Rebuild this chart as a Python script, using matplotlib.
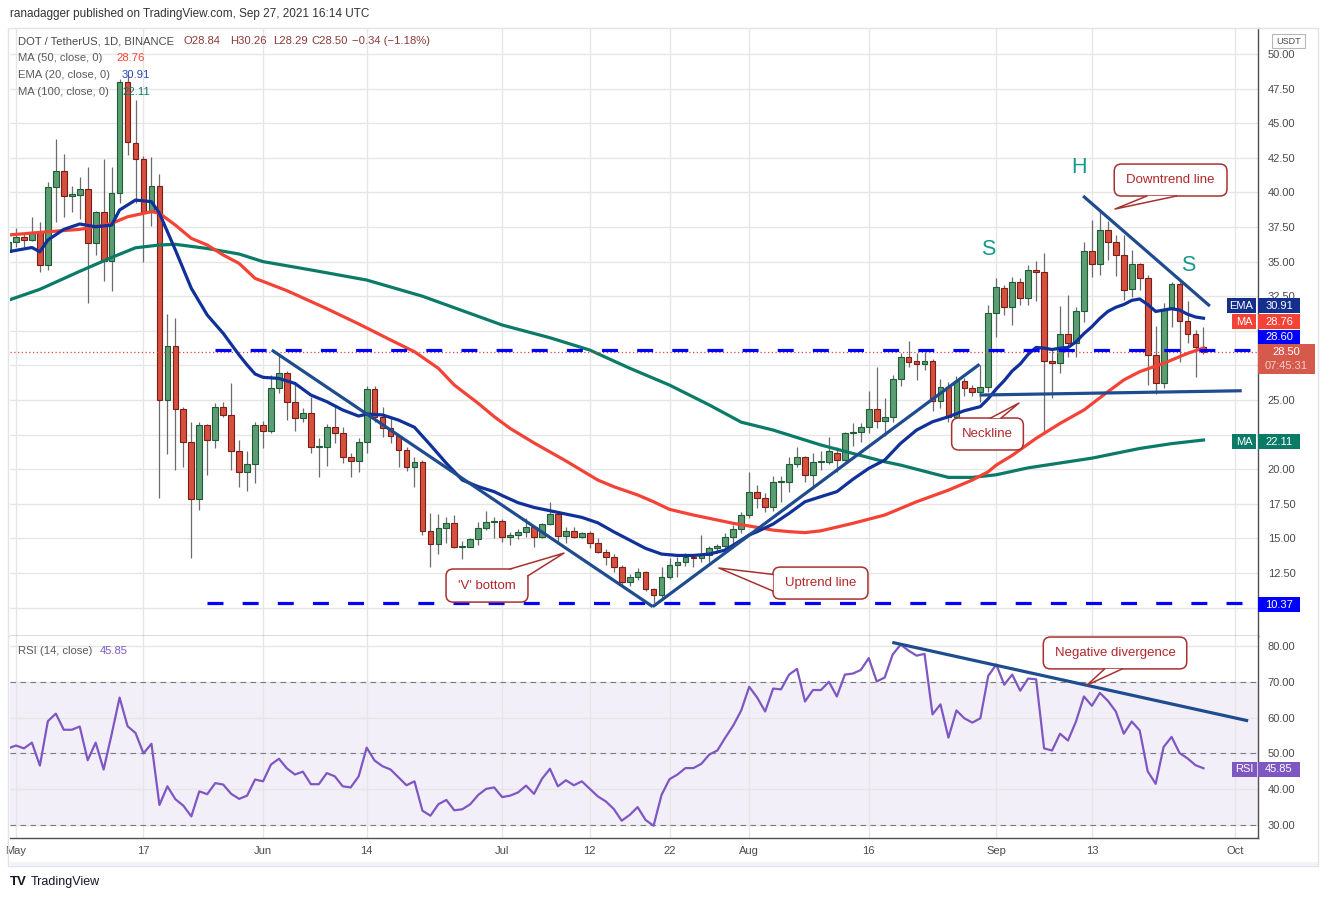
import matplotlib
matplotlib.use('Agg')
import matplotlib.pyplot as plt
import matplotlib.dates as mdates
import matplotlib.transforms as mtransforms
from matplotlib.patches import Rectangle, FancyBboxPatch, Polygon
from matplotlib.ticker import FormatStrFormatter, FuncFormatter
import numpy as np
import pandas as pd

plt.rcParams['font.family'] = ['Liberation Sans', 'DejaVu Sans']

# ---------------- data ----------------
start_date = '2021-04-30'

opens = [
    35.71, 36.44, 36.80, 36.56, 37.16, 34.75, 40.37, 41.55, 39.76, 39.83,
    40.22, 36.37, 38.56, 35.07, 39.93, 47.96, 43.54, 42.39, 38.61, 40.49,
    25.00, 28.90, 24.33, 21.94, 17.83, 23.19, 22.11, 24.47, 23.92, 21.32,
    19.78, 20.35, 23.19, 22.76, 25.85, 26.93, 24.88, 23.67, 24.08, 21.58,
    21.58, 23.07, 22.59, 20.86, 20.62, 21.94, 25.77, 23.79, 22.95, 22.42,
    21.39, 20.14, 20.50, 15.56, 14.60, 15.73, 16.09, 14.36, 14.40, 14.93,
    15.73, 16.21, 16.28, 15.08, 15.22, 15.44, 15.85, 15.12, 16.02, 16.74,
    15.20, 15.56, 15.12, 15.37, 14.69, 14.04, 13.68, 12.96, 11.87, 12.19,
    12.55, 11.32, 10.91, 12.23, 13.05, 13.27, 13.68, 13.56, 13.80, 14.28,
    14.45, 15.12, 15.70, 16.69, 18.33, 17.90, 17.29, 19.05, 19.05, 20.35,
    20.86, 19.56, 20.50, 20.50, 21.20, 20.66, 22.64, 22.72, 23.02, 24.33,
    23.48, 23.75, 26.50, 28.08, 27.80, 27.58, 27.80, 24.95, 25.92, 23.79,
    26.40, 25.85, 25.60, 25.92, 31.26, 33.07, 31.70, 33.50, 32.35, 34.39,
    34.27, 27.84, 27.65, 29.75, 29.10, 31.45, 35.77, 34.80, 37.28, 36.39,
    35.48, 32.99, 34.83, 33.79, 28.25, 26.25, 31.55, 33.36, 30.71, 29.75,
    28.84]
highs = [
    36.60, 37.41, 37.09, 38.24, 37.88, 40.77, 43.86, 42.77, 40.43, 41.13,
    41.81, 38.68, 42.39, 41.81, 48.20, 48.40, 46.68, 42.60, 42.53, 41.31,
    31.19, 30.90, 24.50, 23.43, 23.43, 23.30, 24.76, 24.88, 26.20, 22.10,
    21.32, 23.43, 23.48, 26.81, 28.37, 27.10, 26.32, 24.40, 25.19, 22.23,
    23.30, 24.57, 23.07, 21.15, 22.29, 26.00, 26.00, 24.52, 23.79, 22.42,
    21.60, 20.90, 20.70, 16.81, 16.77, 16.57, 16.69, 14.85, 15.00, 16.21,
    16.98, 16.52, 16.40, 15.49, 15.70, 16.45, 15.90, 16.13, 17.63, 16.80,
    15.85, 15.85, 15.49, 15.56, 15.00, 14.21, 13.87, 13.05, 12.43, 12.84,
    12.67, 11.40, 12.91, 13.56, 13.63, 13.97, 13.87, 15.25, 14.45, 14.61,
    15.36, 15.97, 16.93, 19.82, 18.86, 18.26, 19.53, 19.50, 20.90, 21.58,
    20.95, 21.15, 21.34, 22.35, 21.63, 22.71, 23.36, 23.36, 25.67, 27.36,
    25.12, 26.81, 28.42, 29.29, 28.42, 28.49, 27.94, 26.50, 26.32, 26.73,
    26.57, 26.08, 27.53, 31.86, 33.79, 33.30, 33.91, 33.79, 34.75, 35.07,
    35.64, 28.66, 31.79, 32.59, 31.74, 36.44, 38.00, 38.70, 37.90, 36.92,
    36.92, 35.84, 34.92, 34.00, 30.35, 31.98, 33.55, 33.55, 32.18, 30.06,
    30.26]
lows = [
    35.50, 36.08, 36.08, 36.50, 34.27, 34.39, 37.88, 38.24, 38.60, 38.08,
    31.99, 35.48, 33.62, 32.90, 39.26, 42.70, 39.21, 35.00, 37.59, 17.90,
    21.10, 19.94, 20.18, 13.56, 17.05, 19.58, 21.51, 23.80, 19.94, 18.74,
    18.40, 18.98, 21.51, 22.59, 25.53, 23.55, 22.78, 23.40, 21.19, 19.46,
    20.23, 21.92, 20.42, 19.41, 19.82, 21.15, 23.43, 22.35, 21.87, 20.14,
    19.90, 18.74, 15.25, 12.90, 13.87, 14.64, 14.28, 13.51, 14.36, 14.52,
    15.60, 15.00, 14.72, 14.52, 14.93, 15.12, 14.40, 15.05, 15.95, 14.74,
    14.69, 15.00, 15.00, 14.28, 13.97, 13.08, 12.60, 11.56, 11.56, 11.99,
    11.22, 10.37, 10.60, 12.04, 12.19, 13.00, 12.96, 13.32, 13.32, 13.97,
    14.08, 14.33, 15.36, 16.45, 17.20, 16.90, 17.00, 17.65, 18.38, 20.18,
    19.05, 18.62, 19.94, 20.38, 19.78, 20.60, 21.68, 21.99, 22.64, 22.95,
    22.40, 23.39, 26.01, 27.41, 26.45, 27.17, 24.23, 24.40, 23.43, 23.60,
    25.29, 25.29, 24.88, 25.57, 29.57, 31.14, 30.42, 31.86, 31.86, 32.18,
    22.59, 25.12, 26.93, 28.13, 28.13, 30.66, 33.90, 34.03, 35.10, 33.96,
    32.20, 32.42, 32.95, 26.08, 25.43, 25.84, 30.30, 27.77, 29.14, 26.68,
    28.29]
closes = [
    36.44, 36.80, 36.56, 37.16, 34.75, 40.37, 41.55, 39.76, 39.85, 40.22,
    36.37, 38.56, 35.07, 39.93, 47.96, 43.66, 42.39, 38.61, 40.49, 25.00,
    28.90, 24.33, 21.94, 17.83, 23.19, 22.11, 24.47, 23.92, 21.32, 19.78,
    20.35, 23.19, 22.76, 25.85, 26.93, 24.88, 23.67, 24.08, 21.58, 21.62,
    23.07, 22.59, 20.86, 20.62, 21.94, 25.77, 23.79, 22.95, 22.42, 21.39,
    20.14, 20.50, 15.56, 14.60, 15.73, 16.09, 14.36, 14.45, 14.93, 15.73,
    16.21, 16.28, 15.08, 15.22, 15.44, 15.85, 15.12, 16.02, 16.74, 15.20,
    15.56, 15.12, 15.37, 14.69, 14.04, 13.68, 12.96, 11.87, 12.19, 12.55,
    11.32, 10.91, 12.23, 13.05, 13.27, 13.68, 13.56, 13.80, 14.28, 14.45,
    15.12, 15.70, 16.69, 18.33, 17.90, 17.29, 19.05, 19.10, 20.35, 20.86,
    19.56, 20.50, 20.55, 21.29, 20.66, 22.64, 22.72, 23.02, 24.33, 23.48,
    23.75, 26.50, 28.08, 27.77, 27.58, 27.80, 24.95, 25.92, 23.79, 26.40,
    25.85, 25.60, 25.92, 31.26, 33.14, 31.70, 33.50, 32.35, 34.39, 34.27,
    27.84, 27.65, 29.75, 29.10, 31.45, 35.77, 34.80, 37.28, 36.39, 35.48,
    32.95, 34.83, 33.79, 28.25, 26.25, 31.55, 33.36, 30.71, 29.75, 28.84,
    28.50]

rsi_vals = [
    51.4, 52.2, 51.4, 53.0, 46.6, 59.0, 61.1, 56.6, 56.6, 57.5,
    48.1, 53.0, 45.5, 55.3, 65.6, 57.6, 55.7, 50.0, 52.7, 35.6,
    40.8, 37.2, 35.4, 32.4, 39.4, 38.6, 41.7, 41.3, 38.7, 37.3,
    38.2, 42.7, 42.2, 46.9, 48.5, 45.8, 44.1, 44.9, 41.4, 41.4,
    44.5, 43.6, 40.8, 40.5, 43.6, 51.6, 48.0, 46.4, 45.5, 43.3,
    41.1, 42.2, 34.0, 32.6, 35.8, 37.0, 34.1, 34.4, 35.8, 38.4,
    40.1, 40.5, 37.8, 38.2, 39.1, 41.0, 38.7, 42.9, 45.7, 40.8,
    42.5, 41.1, 42.2, 40.1, 38.0, 36.6, 34.5, 31.2, 32.8, 35.0,
    31.4, 29.8, 38.4, 42.8, 44.1, 45.9, 45.9, 47.1, 49.7, 50.8,
    54.4, 57.8, 62.0, 68.6, 65.6, 61.7, 68.1, 67.9, 72.0, 73.6,
    64.5, 67.7, 67.7, 70.0, 65.9, 72.0, 72.3, 73.3, 76.6, 70.1,
    71.2, 77.6, 80.4, 78.7, 77.3, 77.8, 60.9, 63.7, 54.4, 62.0,
    59.8, 58.6, 59.8, 71.7, 74.8, 69.2, 72.0, 67.5, 70.9, 70.7,
    51.4, 50.8, 55.5, 53.6, 58.9, 65.9, 63.3, 66.9, 64.7, 61.7,
    55.5, 58.9, 56.4, 45.0, 41.5, 51.8, 54.6, 50.1, 48.6, 46.7,
    45.85]

# moving averages (day offset from start_date, value)
ema20_day = [0, 3, 4, 5, 7, 9, 11, 13, 14, 16, 18, 19, 21, 23, 25, 27, 29, 30, 31, 32,
             34, 36, 38, 40, 42, 44, 45, 47, 49, 51, 53, 55, 57, 59, 61, 62, 64, 66, 68, 70,
             72, 74, 76, 78, 80, 82, 84, 86, 88, 90, 92, 93, 94, 96, 98, 100, 102, 104, 106, 108,
             110, 112, 114, 116, 118, 120, 122, 123, 124, 125, 126, 127, 128, 129, 130, 131, 132, 133, 134, 135,
             136, 137, 138, 139, 140, 141, 142, 143, 144, 145, 146, 147, 148, 149, 150]
ema20_val = [35.71, 36.02, 35.71, 36.56, 37.33, 37.72, 37.52, 37.64, 38.73, 39.45, 39.33, 38.49, 35.84, 33.07, 31.14, 29.82, 28.25, 27.53, 26.88, 26.64,
             26.56, 26.20, 25.36, 24.88, 24.28, 23.84, 23.99, 23.92, 23.55, 23.03, 21.75, 20.43, 19.22, 18.74, 18.38, 18.10, 17.58, 17.24, 17.00, 16.76,
             16.52, 16.13, 15.48, 14.88, 14.28, 13.87, 13.77, 13.77, 13.87, 14.16, 14.88, 15.25, 15.49, 16.04, 16.81, 17.65, 18.02, 18.38, 19.27, 20.06,
             20.66, 21.87, 22.83, 23.43, 23.79, 24.23, 24.52, 25.10, 25.80, 26.40, 27.10, 27.60, 28.30, 28.80, 28.75, 28.65, 28.75, 28.80, 29.20, 29.80,
             30.30, 30.90, 31.40, 31.70, 31.90, 32.20, 32.30, 31.90, 31.40, 31.50, 31.60, 31.50, 31.20, 31.00, 30.91]

ma50_day = [0, 5, 9, 13, 15, 18, 19, 21, 23, 25, 27, 29, 31, 35, 40, 44, 48, 51, 54, 56,
            59, 61, 63, 66, 70, 74, 76, 79, 81, 83, 86, 88, 91, 94, 96, 98, 100, 102, 106, 110,
            114, 118, 121, 123, 124, 126, 129, 132, 135, 138, 140, 142, 145, 148, 150]
ma50_val = [36.92, 37.16, 37.33, 37.76, 38.24, 38.61, 38.49, 37.64, 36.68, 36.20, 35.48, 34.87, 33.79, 32.90, 31.60, 30.50, 29.34, 28.49, 27.29, 26.08,
            24.76, 23.80, 22.95, 21.90, 20.60, 19.22, 18.74, 18.14, 17.65, 17.10, 16.69, 16.45, 16.09, 15.80, 15.60, 15.49, 15.42, 15.55, 16.09, 16.69,
            17.65, 18.49, 19.22, 19.82, 20.30, 21.00, 22.23, 23.31, 24.28, 25.60, 26.45, 27.05, 27.65, 28.37, 28.76]

ma100_day = [0, 4, 9, 13, 16, 19, 21, 25, 29, 32, 38, 45, 52, 62, 68, 73, 78, 83, 88, 92,
             96, 98, 102, 106, 110, 112, 116, 118, 121, 124, 128, 132, 136, 142, 146, 150]
ma100_val = [32.20, 33.00, 34.30, 35.30, 36.00, 36.20, 36.25, 35.95, 35.55, 35.00, 34.40, 33.67, 32.50, 30.42, 29.50, 28.61, 27.30, 26.08, 24.64, 23.40,
             22.83, 22.47, 21.75, 21.14, 20.54, 20.30, 19.70, 19.41, 19.41, 19.60, 20.10, 20.45, 20.80, 21.50, 21.85, 22.11]

tick_dates = ['2021-05-01', '2021-05-17', '2021-06-01', '2021-06-14', '2021-07-01', '2021-07-12',
              '2021-07-22', '2021-08-01', '2021-08-16', '2021-09-01', '2021-09-13', '2021-10-01']
tick_labels = ['May', '17', 'Jun', '14', 'Jul', '12', '22', 'Aug', '16', 'Sep', '13', 'Oct']

level_low = 10.37
level_res = 28.60
last_price = 28.50
ema_last, ma50_last, ma100_last, rsi_last = 30.91, 28.76, 22.11, 45.85
ohlc_text = ['O28.84', 'H30.26', 'L28.29', 'C28.50', '\u22120.34 (\u22121.18%)']

# drawn lines: (day offset, value)
down_line = [(33.1, 28.61), (80.9, 10.07)]
up_line = [(80.9, 10.07), (121.9, 27.58)]
neck_line = [(121.9, 25.36), (154.8, 25.67)]
hs_down_line = [(134.9, 39.74), (150.8, 31.79)]
rsi_div_line = [(110.95, 81.0), (155.6, 59.1)]

# ---------------- figure ----------------
W, H = 1330, 900
fig = plt.figure(figsize=(W / 100, H / 100), dpi=100)
fig.patch.set_facecolor('white')

d0 = mdates.date2num(pd.Timestamp(start_date))
n = len(closes)
xs = d0 + np.arange(n)


def dx(days):
    return d0 + np.asarray(days, dtype=float)


L_PX, R_PX = 10, 1258
TOP_PX, SEP_PX, BOT_PX = 28, 636, 838
ax = fig.add_axes([L_PX / W, 1 - SEP_PX / H, (R_PX - L_PX) / W, (SEP_PX - TOP_PX) / H])
ax2 = fig.add_axes([L_PX / W, 1 - BOT_PX / H, (R_PX - L_PX) / W, (BOT_PX - SEP_PX) / H], sharex=ax)
XL = (d0 + 0.25, d0 + 156.84)
ax.set_xlim(*XL)
ax.set_ylim(7.95, 51.88)
ax2.set_ylim(26.37, 82.79)
PX_DAY = 7.97
PX_PRICE = 13.84
PX_RSI = 3.58

grid_c = '#e6e6e6'
axis_c = '#4f4f4f'
tick_x = mdates.date2num(pd.to_datetime(tick_dates))
for a in (ax, ax2):
    a.set_facecolor('white')
    a.set_xticks(tick_x)
    a.grid(True, color=grid_c, lw=1.0, zorder=0)
    a.set_axisbelow(True)
    for s in a.spines.values():
        s.set_visible(False)
    for s in ('right', 'bottom'):
        a.spines[s].set_visible(True)
        a.spines[s].set_color(axis_c)
        a.spines[s].set_linewidth(1.0)
    a.yaxis.tick_right()
    a.tick_params(axis='y', length=0, pad=7, labelsize=8, labelcolor='#4a4a4a')
    a.tick_params(axis='x', length=0)

# price-scale labels hidden behind the value tags in the reference are left blank
hidden_ticks = (10.0, 22.5, 27.5, 30.0)


def price_fmt(v, pos):
    if any(abs(v - h) < 1e-6 for h in hidden_ticks):
        return ''
    return f'{v:.2f}'


ax.set_yticks(np.arange(10, 51, 2.5))
ax.yaxis.set_major_formatter(FuncFormatter(price_fmt))
ax2.set_yticks([30, 40, 50, 60, 70, 80])
ax2.yaxis.set_major_formatter(FormatStrFormatter('%.2f'))
ax.tick_params(axis='x', labelbottom=False)
ax2.set_xticklabels(tick_labels)
ax2.tick_params(axis='x', pad=6, labelsize=8, labelcolor='#4a4a4a')

# ---------------- candles ----------------
o = np.array(opens); c = np.array(closes); hi = np.array(highs); lo = np.array(lows)
up = c >= o
body_lo = np.minimum(o, c)
body_h = np.maximum(np.abs(c - o), 0.07)
ax.vlines(xs, lo, hi, color='#6c6c6c', lw=0.9, zorder=2)
ax.bar(xs, body_h, bottom=body_lo, width=0.72,
       color=['#5c9d73' if u else '#d5503f' for u in up],
       edgecolor=['#1f5c36' if u else '#7a1e18' for u in up],
       linewidth=0.8, zorder=2.5)

# ---------------- indicators ----------------
ax.plot(dx(ma100_day), ma100_val, color='#0b7b67', lw=2.3, zorder=3, solid_joinstyle='round')
ax.plot(dx(ma50_day), ma50_val, color='#f44336', lw=2.3, zorder=3, solid_joinstyle='round')
ax.plot(dx(ema20_day), ema20_val, color='#10309a', lw=2.3, zorder=3.1, solid_joinstyle='round')

ax.axhline(last_price, color='#e0483b', lw=0.9, ls=(0, (1, 2)), zorder=3)
ax.plot([d0 + 26, XL[1]], [level_res, level_res], color='#0000ff', lw=2.3, dashes=(5, 6), zorder=3.5)
ax.plot([d0 + 25, XL[1]], [level_low, level_low], color='#0000ff', lw=2.3, dashes=(5, 6), zorder=3.5)

tl_c = '#1f4c8f'
for seg in (down_line, up_line, neck_line, hs_down_line):
    ax.plot(dx([p[0] for p in seg]), [p[1] for p in seg], color=tl_c, lw=2.3, zorder=4,
            solid_capstyle='butt')

# RSI
ax2.axhspan(30, 70, color='#7e57c2', alpha=0.09, lw=0, zorder=0.5)
for lv in (70, 50, 30):
    ax2.axhline(lv, color='#787b86', lw=0.8, ls=(0, (5, 4)), zorder=1)
ax2.plot(xs, rsi_vals, color='#7e57c2', lw=1.6, zorder=3)
ax2.plot(dx([p[0] for p in rsi_div_line]), [p[1] for p in rsi_div_line], color=tl_c, lw=2.3,
         zorder=4, solid_capstyle='butt')

# ---------------- callouts ----------------
cc = '#a8312f'
tc = '#b0282b'


def callout(a, x0, x1, y0, y1, b1, b2, tip, text, yscale):
    asp = PX_DAY / yscale
    box = FancyBboxPatch((d0 + x0, y0), x1 - x0, y1 - y0,
                         boxstyle='round,pad=0,rounding_size=0.9', mutation_aspect=asp,
                         fc='white', ec=cc, lw=1.1, zorder=7)
    a.add_patch(box)
    pts = [(d0 + b1[0], b1[1]), (d0 + tip[0], tip[1]), (d0 + b2[0], b2[1])]
    a.add_patch(Polygon(pts, closed=True, fc='white', ec='none', zorder=7.5))
    a.plot([p[0] for p in pts], [p[1] for p in pts], color=cc, lw=1.1, zorder=7.6)
    a.text(d0 + (x0 + x1) / 2, (y0 + y1) / 2, text, ha='center', va='center', color=tc,
           fontsize=9.5, zorder=8)


callout(ax, 54.96, 65.24, 10.40, 12.79, (63.0, 12.79), (65.24, 12.30), (69.76, 13.94), "'V' bottom", PX_PRICE)
callout(ax, 95.98, 107.9, 10.62, 12.93, (95.98, 12.40), (95.98, 11.20), (89.2, 12.86), 'Uptrend line', PX_PRICE)
callout(ax, 118.4, 127.4, 21.39, 23.70, (123.3, 23.70), (124.6, 23.70), (126.85, 24.78), 'Neckline', PX_PRICE)
callout(ax, 138.8, 152.95, 39.74, 42.05, (142.9, 39.74), (146.6, 39.74), (138.9, 38.80), 'Downtrend line', PX_PRICE)
callout(ax2, 129.9, 147.9, 73.6, 82.5, (137.6, 73.6), (139.8, 73.6), (135.4, 69.1), 'Negative divergence', PX_RSI)

# head & shoulders letters
hs_c = '#14998a'
ax.text(d0 + 134.4, 41.8, 'H', color=hs_c, fontsize=15.5, ha='center', va='center', zorder=8)
ax.text(d0 + 122.96, 35.9, 'S', color=hs_c, fontsize=15.5, ha='center', va='center', zorder=8)
ax.text(d0 + 148.05, 34.7, 'S', color=hs_c, fontsize=15.5, ha='center', va='center', zorder=8)


# ---------------- price-scale tags ----------------
def tag(a, yv, x0, x1, text, fc, yscale, hpx=15, tcol='white', fs=8):
    tr = mtransforms.blended_transform_factory(fig.transFigure, a.transData)
    hh = hpx / yscale
    a.add_patch(Rectangle((x0 / W, yv - hh / 2), (x1 - x0) / W, hh, transform=tr, fc=fc,
                          ec='none', clip_on=False, zorder=20))
    if text:
        a.text((x0 + x1) / 2 / W, yv, text, transform=tr, ha='center', va='center', color=tcol,
               fontsize=fs, clip_on=False, zorder=21)


ema_c = '#142f8c'
tag(ax, 31.81, 1227, 1256, 'EMA', ema_c, PX_PRICE)
tag(ax, 31.81, 1258, 1300, f'{ema_last:.2f}', ema_c, PX_PRICE)
tag(ax, 30.65, 1232, 1256, 'MA', '#f44336', PX_PRICE)
tag(ax, 30.65, 1258, 1300, f'{ma50_last:.2f}', '#f44336', PX_PRICE)
tag(ax, 29.55, 1258, 1300, f'{level_res:.2f}', '#0000ff', PX_PRICE)
tag(ax, 27.96, 1258, 1315, '', '#d65a4b', PX_PRICE, hpx=30)
trm = mtransforms.blended_transform_factory(fig.transFigure, ax.transData)
ax.text(1286.5 / W, 28.45, f'{last_price:.2f}', transform=trm, ha='center', va='center',
        color='white', fontsize=8, clip_on=False, zorder=21)
ax.text(1286.5 / W, 27.45, '07:45:31', transform=trm, ha='center', va='center',
        color='#f6cdc7', fontsize=8, clip_on=False, zorder=21)
tag(ax, 21.99, 1232, 1256, 'MA', '#0b7b67', PX_PRICE)
tag(ax, 21.99, 1258, 1300, f'{ma100_last:.2f}', '#0b7b67', PX_PRICE)
tag(ax, 10.21, 1258, 1300, f'{level_low:.2f}', '#0000ff', PX_PRICE)
tag(ax2, 45.64, 1232, 1257, 'RSI', '#7e57c2', PX_RSI)
tag(ax2, 45.64, 1258, 1300, f'{rsi_last:.2f}', '#7e57c2', PX_RSI)

ax.set_xlim(*XL)
ax.set_ylim(7.95, 51.88)
ax2.set_ylim(26.37, 82.79)


# ---------------- figure texts ----------------
def ftext(xp, yp, s, **kw):
    kw.setdefault('va', 'center')
    return fig.text(xp / W, 1 - yp / H, s, **kw)


ftext(10, 14, 'ranadagger published on TradingView.com, Sep 27, 2021 16:14 UTC', fontsize=8.5, color='#333333')
ftext(18, 41, 'DOT / TetherUS, 1D, BINANCE', fontsize=8.1, color='#4a4a4a')
val_c = '#8c3a36'
for xp, s in zip([184, 230, 273, 311, 352], ohlc_text):
    ftext(xp, 41, s, fontsize=8.1, color=val_c)
ftext(18, 58, 'MA (50, close, 0)', fontsize=8.1, color='#5a5a5a')
ftext(116, 58, f'{ma50_last:.2f}', fontsize=8.1, color='#f44336')
ftext(18, 75, 'EMA (20, close, 0)', fontsize=8.1, color='#5a5a5a')
ftext(122, 75, f'{ema_last:.2f}', fontsize=8.1, color='#2446b8')
ftext(18, 92, 'MA (100, close, 0)', fontsize=8.1, color='#5a5a5a')
ftext(122, 92, f'{ma100_last:.2f}', fontsize=8.1, color='#0b7b67')
ftext(18, 651, 'RSI (14, close)', fontsize=8.1, color='#5a5a5a')
ftext(100, 651, f'{rsi_last:.2f}', fontsize=8.1, color='#7e57c2')

# USDT box
fig.add_artist(Rectangle((1272 / W, 1 - 48 / H), 33 / W, 14 / H, transform=fig.transFigure,
                         fc='white', ec='#b8b8b8', lw=0.8, zorder=5))
ftext(1288.5, 41, 'USDT', fontsize=6.5, color='#4a4a4a', ha='center', zorder=6)

# outer frame and bottom strip
fig.add_artist(Rectangle((8 / W, 1 - 866 / H), (1318 - 8) / W, (866 - 28) / H,
                         transform=fig.transFigure, fill=False, ec='#e0e3eb', lw=1, zorder=4))
fig.add_artist(Rectangle((10 / W, 1 - 866 / H), (1318 - 10) / W, 4 / H,
                         transform=fig.transFigure, fc='#f0f3fa', ec='none', zorder=4))

# footer logo
ftext(10, 882, 'TV', fontsize=9.5, fontweight='heavy', color='#131722')
ftext(31, 882, 'TradingView', fontsize=9, color='#131722')

fig.savefig('out.png', dpi=100, facecolor='white')
